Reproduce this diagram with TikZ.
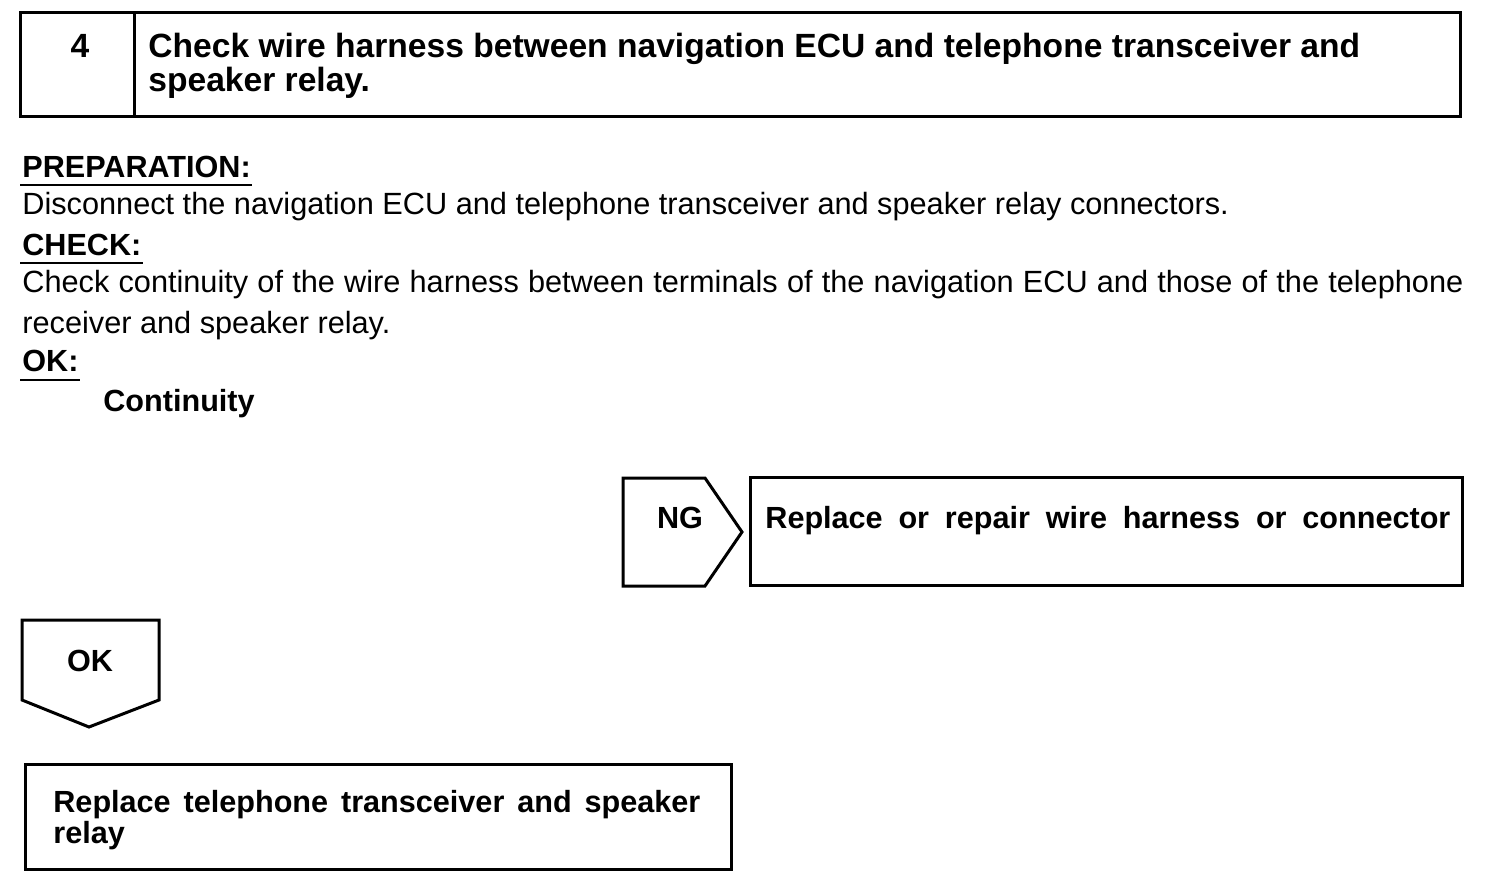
\documentclass[tikz,border=0pt]{standalone}
\usepackage{fontspec}
\setmainfont{Liberation Sans}
\usepackage{tikz}
\begin{document}
\begin{tikzpicture}[x=0.5pt,y=-0.5pt]
  \tikzstyle{every node}=[inner sep=0pt, anchor=base west, font=\fontsize{15.35}{18}\selectfont]
  \tikzstyle{heading}=[font=\bfseries\fontsize{16.8}{20}\selectfont]
  \tikzstyle{tag}=[font=\bfseries\fontsize{15.3}{18}\selectfont]
  \tikzstyle{frame}=[draw, line width=1.5pt, line join=miter]
  \tikzstyle{rule}=[draw, line width=1pt]
  \useasboundingbox (0,0) rectangle (1504,884);
  % heading
  \draw[frame] (20,12) rectangle (1460,116);
  \draw[frame] (134,12) -- (134,116);
  \node[heading, anchor=base] (Num) at (80,57) {4};
  \node[heading] (Title) at (148,57) {Check wire harness between navigation ECU and telephone transceiver and};
  \node[heading] (Title2) at (148,91) {speaker relay.};
  % text
  \node[tag] (Prep) at (22,177) {PREPARATION:};
  \draw[rule] ([shift={(-2,8)}]Prep.base west) -- ([shift={(1,8)}]Prep.base east);
  \node (PrepText) at (22,214) {Disconnect the navigation ECU and telephone transceiver and speaker relay connectors.};
  \node[tag] (Chk) at (22,255) {CHECK:};
  \draw[rule] ([shift={(-2,8)}]Chk.base west) -- ([shift={(1,8)}]Chk.base east);
  \node (ChkText) at (22,292) {\makebox[720.5pt][s]{Check continuity of the wire harness between terminals of the navigation ECU and those of the telephone}};
  \node (ChkText2) at (22,333) {receiver and speaker relay.};
  \node[tag] (Ok) at (22,371) {OK:};
  \draw[rule] ([shift={(-2,9)}]Ok.base west) -- ([shift={(1,9)}]Ok.base east);
  \node[tag] (OkText) at (103,411) {Continuity};
  % NG branch
  \draw[frame] (623,478) -- (705,478) -- (742,532) -- (705,586) -- (623,586) -- cycle;
  \node[tag, anchor=base] (Ng) at (680,528) {NG};
  \draw[frame] (750,477) rectangle (1462,585);
  \node[tag] (NgText) at (765,528) {\makebox[342.5pt][s]{Replace or repair wire harness or connector}};
  % OK branch
  \draw[frame] (22,620) -- (159,620) -- (159,700) -- (89,727) -- (22,700) -- cycle;
  \node[tag, anchor=base] (Go) at (90,671) {OK};
  \draw[frame] (25,764) rectangle (731,869);
  \node[tag] (GoText) at (53,812) {\makebox[323.5pt][s]{Replace telephone transceiver and speaker}};
  \node[tag] (GoText2) at (53,843) {relay};
\end{tikzpicture}
\end{document}
